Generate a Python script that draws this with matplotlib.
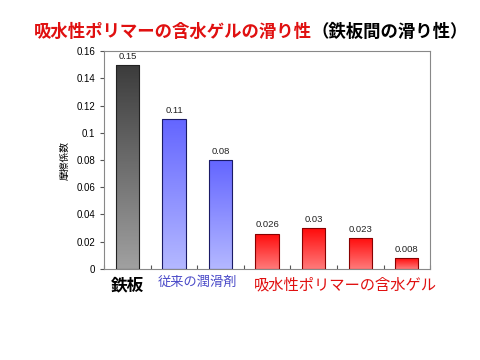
import numpy as np
import matplotlib
matplotlib.use("Agg")
import matplotlib.pyplot as plt
from matplotlib.colors import LinearSegmentedColormap

plt.rcParams['font.family'] = ['Noto Sans CJK JP', 'DejaVu Sans']

# -------------------- data --------------------
values = [0.15, 0.11, 0.08, 0.026, 0.03, 0.023, 0.008]
value_labels = ["0.15", "0.11", "0.08", "0.026", "0.03", "0.023", "0.008"]
groups = ["鉄板", "従来の潤滑剤", "吸水性ポリマーの含水ゲル"]
group_members = [[0], [1, 2], [3, 4, 5, 6]]
yticks = [0, 0.02, 0.04, 0.06, 0.08, 0.1, 0.12, 0.14, 0.16]
ytick_labels = ["0", "0.02", "0.04", "0.06", "0.08", "0.1", "0.12", "0.14", "0.16"]

# gradient (top, bottom) and edge per group
grad = [("#3c3c3c", "#a0a0a0"), ("#6466ff", "#b4b8ff"), ("#ff0a0a", "#ff7a7a")]
edges = ["#222222", "#1a1a66", "#880000"]
label_colors = ["black", "#4a4ac8", "#e01010"]
label_sizes = [12, 9.5, 11]
label_weights = ["bold", "normal", "normal"]
label_shift = [0, 0, 0.18]

fig = plt.figure(figsize=(4.8, 3.6), dpi=100)
ax = fig.add_axes([0.217, 0.253, 0.679, 0.605])

x = np.arange(len(values))

# -------------------- bars with vertical gradient --------------------
for gi, members in enumerate(group_members):
    cmap = LinearSegmentedColormap.from_list("g%d" % gi, [grad[gi][1], grad[gi][0]])
    for i in members:
        bar = ax.bar(x[i], values[i], width=0.5, color="none",
                     edgecolor=edges[gi], linewidth=0.8, zorder=3)[0]
        g = np.linspace(0, 1, 100).reshape(-1, 1)
        im = ax.imshow(g, cmap=cmap, origin="lower", aspect="auto",
                       extent=[x[i] - 0.25, x[i] + 0.25, 0, values[i]], zorder=2)
        im.set_clip_path(bar)
        ax.text(x[i], values[i] + 0.003, value_labels[i], ha="center", va="bottom",
                fontsize=6.8, color="#222222", family="Liberation Sans")

ax.set_xlim(-0.5, len(values) - 0.5)
ax.set_ylim(0, 0.16)

ax.set_yticks(yticks)
ax.set_yticklabels(ytick_labels, fontsize=7, family="Liberation Sans")
ax.set_xticks(np.arange(len(values) + 1) - 0.5)
ax.set_xticklabels([])
ax.tick_params(axis="x", direction="in", length=3, color="#555555")
ax.tick_params(axis="y", direction="out", length=3, color="#555555")
for s in ax.spines.values():
    s.set_color("#888888")
    s.set_linewidth(0.8)

ax.set_ylabel("摩擦係数", fontsize=7, labelpad=5)

# group labels under the axis
for gi, members in enumerate(group_members):
    cx = np.mean([x[i] for i in members]) + label_shift[gi]
    ax.text(cx, -0.0055, groups[gi], ha="center", va="top", fontsize=label_sizes[gi],
            color=label_colors[gi], fontweight=label_weights[gi], clip_on=False)

# title: red part + black part
t1 = fig.text(0.07, 0.912, "吸水性ポリマーの含水ゲルの滑り性", fontsize=12.5,
              fontweight="bold", color="#e01010", ha="left", va="center")
fig.canvas.draw()
bb = t1.get_window_extent()
fig.text(bb.x1 / fig.bbox.width, 0.912, "（鉄板間の滑り性）", fontsize=12.5,
         fontweight="bold", color="black", ha="left", va="center")

fig.savefig("out.png", dpi=100)
